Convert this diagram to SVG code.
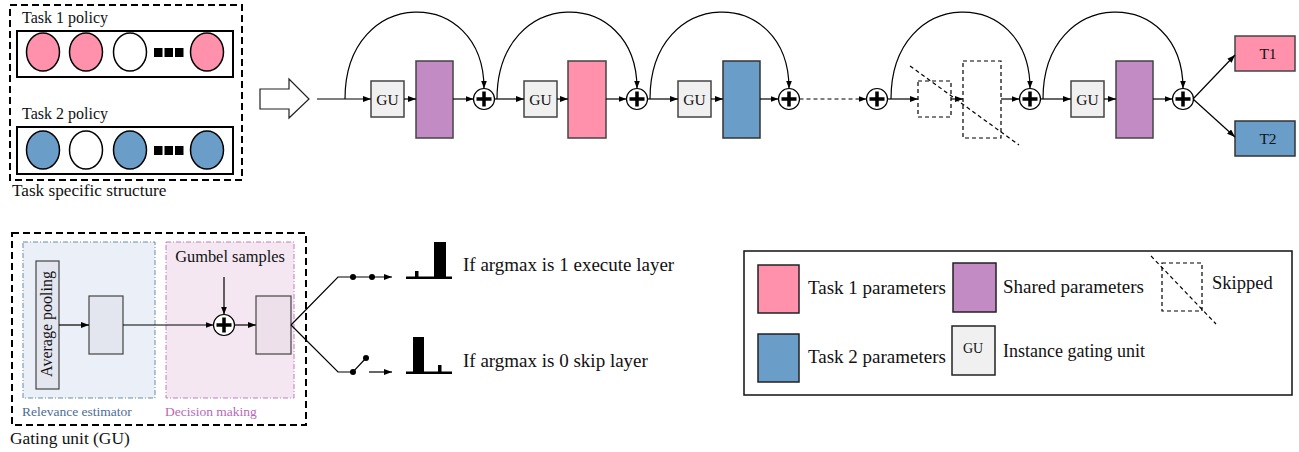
<svg xmlns="http://www.w3.org/2000/svg" width="1299" height="452" viewBox="0 0 1299 452">
<defs>
<marker id="ah" viewBox="0 0 8 6" refX="8" refY="3" markerWidth="8" markerHeight="6" markerUnits="userSpaceOnUse" orient="auto">
<path d="M0,0 L8,3 L0,6 z" fill="#000"/>
</marker>
<g id="plus">
<circle r="10.5" fill="#fff" stroke="#000" stroke-width="1.2"/>
<path d="M-7.5,0 H7.5 M0,-7.5 V7.5" stroke="#000" stroke-width="3.5"/>
</g>
<style>
text{font-family:"Liberation Serif","Times New Roman",serif;fill:#111}
.ln{stroke:#000;stroke-width:1.2;fill:none}
.ar{stroke:#000;stroke-width:1.2;fill:none;marker-end:url(#ah)}
.gu{fill:#f0f0f0;stroke:#444;stroke-width:1.5}
.sh{fill:#c38bc4;stroke:#444;stroke-width:1.5}
.t1{fill:#ff91ac;stroke:#444;stroke-width:1.5}
.t2{fill:#6a9ec8;stroke:#333;stroke-width:1.5}
.dsh{fill:none;stroke:#000;stroke-width:1.2;stroke-dasharray:4,3}
.bigdash{fill:none;stroke:#000;stroke-width:2;stroke-dasharray:7,4}
.lbl{font-size:15.5px}
.leg{font-size:19px}
.arg{font-size:19px}
</style>
</defs>

<!-- Task specific structure -->
<g id="task-structure">
<rect x="10" y="5" width="232" height="175" class="bigdash"/>
<text x="22" y="23" font-size="16">Task 1 policy</text>
<rect x="17" y="31" width="216" height="46" fill="#fff" stroke="#000" stroke-width="2"/>
<ellipse cx="43" cy="52" rx="16.5" ry="19" class="t1" style="stroke:#000"/>
<ellipse cx="86" cy="52" rx="16.5" ry="19" class="t1" style="stroke:#000"/>
<ellipse cx="130" cy="52" rx="16.5" ry="19" fill="#fff" stroke="#000" stroke-width="1.5"/>
<rect x="154" y="48" width="8.5" height="9"/><rect x="164.5" y="48" width="8.5" height="9"/><rect x="175" y="48" width="8.5" height="9"/>
<ellipse cx="207" cy="52" rx="16.5" ry="19" class="t1" style="stroke:#000"/>
<text x="22" y="119" font-size="16">Task 2 policy</text>
<rect x="17" y="127" width="216" height="47" fill="#fff" stroke="#000" stroke-width="2"/>
<ellipse cx="43" cy="150" rx="16.5" ry="19" class="t2" style="stroke:#000"/>
<ellipse cx="86" cy="150" rx="16.5" ry="19" fill="#fff" stroke="#000" stroke-width="1.5"/>
<ellipse cx="130" cy="150" rx="16.5" ry="19" class="t2" style="stroke:#000"/>
<rect x="154" y="146" width="8.5" height="9"/><rect x="164.5" y="146" width="8.5" height="9"/><rect x="175" y="146" width="8.5" height="9"/>
<ellipse cx="207" cy="150" rx="16.5" ry="19" class="t2" style="stroke:#000"/>
<text x="12" y="196" font-size="17.2">Task specific structure</text>
</g>

<g id="input-arrow">
<path d="M260,89 H289 V79 L309,99 L289,118 V109 H260 z" fill="#fff" stroke="#222" stroke-width="1.2"/>
</g>

<!-- Main pipeline nodes -->
<g id="gu1"><rect x="371" y="81" width="33" height="36" class="gu"/><text x="387.5" y="104.5" text-anchor="middle" class="lbl">GU</text></g>
<g id="layer1"><rect x="416" y="61" width="37" height="77" class="sh"/></g>
<g id="add1"><use href="#plus" x="484" y="99"/></g>
<g id="gu2"><rect x="524" y="81" width="33" height="36" class="gu"/><text x="540.5" y="104.5" text-anchor="middle" class="lbl">GU</text></g>
<g id="layer2"><rect x="568" y="61" width="38" height="77" class="t1"/></g>
<g id="add2"><use href="#plus" x="637" y="99"/></g>
<g id="gu3"><rect x="678" y="81" width="33" height="36" class="gu"/><text x="694.5" y="104.5" text-anchor="middle" class="lbl">GU</text></g>
<g id="layer3"><rect x="723" y="61" width="37" height="77" class="t2"/></g>
<g id="add3"><use href="#plus" x="789" y="99"/></g>
<g id="add4"><use href="#plus" x="877" y="99"/></g>
<g id="gu-skipped"><rect x="918" y="81" width="33" height="36" class="dsh"/></g>
<g id="layer-skipped"><rect x="963" y="61" width="38" height="77" class="dsh"/></g>
<g id="skip-mark"><path d="M910,66 L1019,145" class="dsh"/></g>
<g id="add5"><use href="#plus" x="1030" y="99"/></g>
<g id="gu4"><rect x="1071" y="81" width="33" height="36" class="gu"/><text x="1087.5" y="104.5" text-anchor="middle" class="lbl">GU</text></g>
<g id="layer4"><rect x="1116" y="61" width="37" height="77" class="sh"/></g>
<g id="add6"><use href="#plus" x="1183" y="99"/></g>
<g id="T1"><rect x="1235" y="36" width="60" height="35" class="t1"/><text x="1268" y="59" text-anchor="middle" font-size="15.5">T1</text></g>
<g id="T2"><rect x="1235" y="121" width="60" height="35" class="t2"/><text x="1268" y="144" text-anchor="middle" font-size="15.5">T2</text></g>

<!-- Connectors -->
<g id="connectors">
<path d="M317,99 H371" class="ar"/>
<path d="M404,99 H416" class="ar"/>
<path d="M453,99 H473.5" class="ar"/>
<path d="M494.5,99 H524" class="ar"/>
<path d="M557,99 H568" class="ar"/>
<path d="M606,99 H626.5" class="ar"/>
<path d="M647.5,99 H678" class="ar"/>
<path d="M711,99 H723" class="ar"/>
<path d="M760,99 H778.5" class="ar"/>
<path d="M799.5,99 H866.5" class="ar" stroke-dasharray="4,3"/>
<path d="M887.5,99 H918" class="ar"/>
<path d="M951,99 H963" class="ar"/>
<path d="M1001,99 H1019.5" class="ar"/>
<path d="M1040.5,99 H1071" class="ar"/>
<path d="M1104,99 H1116" class="ar"/>
<path d="M1153,99 H1172.5" class="ar"/>
<path d="M1193,99 L1235,55" class="ar"/>
<path d="M1193,99 L1235,137" class="ar"/>
<path d="M345,99 C345,-15 484,-15 484,88.5" class="ar"/>
<path d="M497,99 C497,-15 637,-15 637,88.5" class="ar"/>
<path d="M650,99 C650,-15 789,-15 789,88.5" class="ar"/>
<path d="M891,99 C891,-15 1030,-15 1030,88.5" class="ar"/>
<path d="M1043,99 C1043,-15 1183,-15 1183,88.5" class="ar"/>
</g>

<!-- Gating unit -->
<g id="gating-unit">
<rect x="12" y="233" width="294" height="192" class="bigdash"/>
<rect x="23" y="242" width="132" height="156" fill="#ebf0f8" stroke="#6b8bab" stroke-width="1" stroke-dasharray="5,2,1,2"/>
<rect x="166" y="242" width="128" height="156" fill="#f4e7f2" stroke="#c27cc2" stroke-width="1" stroke-dasharray="5,2,1,2"/>
<rect x="36" y="261" width="23" height="128" fill="#e3e6ee" stroke="#444" stroke-width="1.2"/>
<text transform="translate(52,324) rotate(-90)" text-anchor="middle" font-size="16">Average pooling</text>
<rect x="89" y="296" width="34" height="58" fill="#e3e6ee" stroke="#444" stroke-width="1.2"/>
<rect x="256" y="296" width="35" height="58" fill="#ede0ea" stroke="#444" stroke-width="1.2"/>
<path d="M59,325 H89" class="ar"/>
<path d="M123,325 H213.5" class="ar"/>
<path d="M224,277 V314.5" class="ar"/>
<use href="#plus" x="224" y="325"/>
<path d="M234.5,325 H256" class="ar"/>
<text x="230" y="262" text-anchor="middle" font-size="16.4">Gumbel samples</text>
<text x="22" y="416" font-size="13.5" style="fill:#4a6d94">Relevance estimator</text>
<text x="165" y="416" font-size="13.5" style="fill:#b868b8">Decision making</text>
<text x="10" y="444" font-size="17.4">Gating unit (GU)</text>
</g>

<g id="gate-outputs">
<path d="M291,325 L338,277 H392" class="ar"/>
<circle cx="353" cy="277" r="3"/>
<circle cx="372" cy="277" r="3"/>
<path d="M291,325 L338,372 H353 L366,358" class="ln"/>
<circle cx="353" cy="372" r="3"/>
<circle cx="366" cy="358" r="3"/>
<path d="M369,372 H392" class="ar"/>
<rect x="406" y="276.5" width="46" height="2.5"/>
<rect x="415" y="271" width="3.5" height="7"/>
<rect x="434" y="242" width="12" height="36"/>
<text x="463" y="271" class="arg">If argmax is 1 execute layer</text>
<rect x="406" y="371.5" width="46" height="2.5"/>
<rect x="413" y="337" width="11" height="36"/>
<rect x="438" y="365" width="3.5" height="8"/>
<text x="463" y="367" class="arg">If argmax is 0 skip layer</text>
</g>

<!-- Legend -->
<g id="legend">
<rect x="744" y="251" width="548" height="144" fill="#fff" stroke="#111" stroke-width="1.5"/>
<rect x="758" y="265" width="41" height="48" class="t1" style="stroke:#222"/>
<text x="808" y="294" class="leg">Task 1 parameters</text>
<rect x="953" y="263" width="43" height="49" class="sh" style="stroke:#222"/>
<text x="1003" y="293" class="leg">Shared parameters</text>
<rect x="1162" y="263" width="40" height="48" class="dsh"/>
<path d="M1151,256 L1216,324" class="dsh"/>
<text x="1212" y="289" font-size="18.5">Skipped</text>
<rect x="758" y="334" width="41" height="48" class="t2" style="stroke:#222"/>
<text x="808" y="363" class="leg">Task 2 parameters</text>
<rect x="952" y="326" width="43" height="49" class="gu" style="stroke:#222"/>
<text x="973" y="353" text-anchor="middle" font-size="14">GU</text>
<text x="1003" y="357" font-size="18">Instance gating unit</text>
</g>
</svg>
